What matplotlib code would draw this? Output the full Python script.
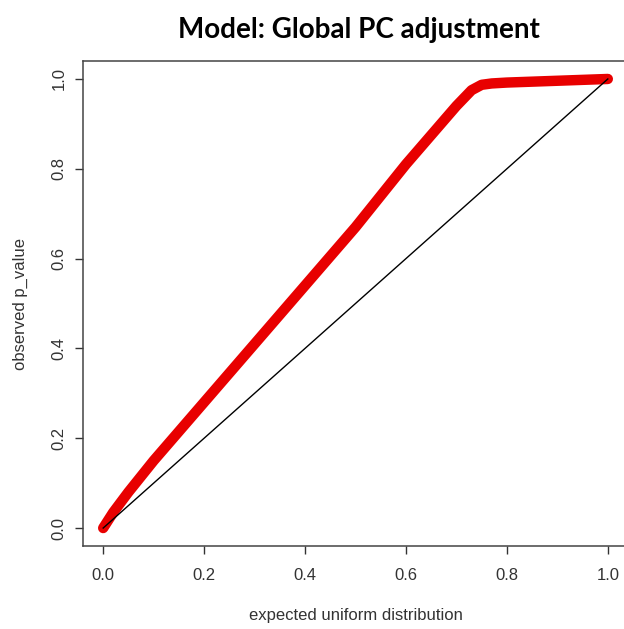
import matplotlib
matplotlib.use('Agg')
import matplotlib.pyplot as plt

# QQ-style curve: expected uniform quantiles vs observed p-values
expected = [0.0, 0.02, 0.05, 0.10, 0.15, 0.20, 0.30, 0.40, 0.50, 0.60,
            0.65, 0.70, 0.73, 0.75, 0.77, 0.80, 0.90, 1.0]
observed = [0.0, 0.035, 0.08, 0.15, 0.215, 0.28, 0.41, 0.54, 0.67, 0.81,
            0.875, 0.94, 0.975, 0.987, 0.99, 0.992, 0.996, 1.0]
diag = [0.0, 1.0]

ticks = [0.0, 0.2, 0.4, 0.6, 0.8, 1.0]
tick_labels = ["0.0", "0.2", "0.4", "0.6", "0.8", "1.0"]

fig = plt.figure(figsize=(6.24, 6.29), dpi=100)
# the right edge of the R plot box is cut off in the original, so let it run past the figure
ax = fig.add_axes([83 / 624, 1 - 546 / 629, 545 / 624, 485 / 629])

ax.plot(expected, observed, color='#e80000', lw=7.5, solid_capstyle='round',
        solid_joinstyle='round', zorder=2)
ax.plot(diag, diag, color='black', lw=1.0, zorder=3)

# R default 4% padding
ax.set_xlim(-0.04, 1.04)
ax.set_ylim(-0.04, 1.04)

axis_font = dict(family=['Liberation Sans', 'DejaVu Sans'], size=12, color='#333333')
ax.set_xticks(ticks)
ax.set_xticklabels(tick_labels, **axis_font)
ax.set_yticks(ticks)
ax.set_yticklabels(tick_labels, rotation=90, va='center', **axis_font)
ax.tick_params(direction='out', length=6, width=1.0, color='#333333')
ax.tick_params(axis='x', pad=10)
ax.tick_params(axis='y', pad=6)

for s in ax.spines.values():
    s.set_color('#444444')
    s.set_linewidth(1.1)

ax.set_xlabel('expected uniform distribution', labelpad=18, **axis_font)
ax.set_ylabel('observed p_value', labelpad=17, **axis_font)

fig.text(359 / 624, 1 - 30 / 629, 'Model: Global PC adjustment',
         family=['Lato', 'DejaVu Sans'], weight='bold', size=20,
         ha='center', va='center', color='black')

fig.savefig('out.png', dpi=100)
plt.close(fig)
